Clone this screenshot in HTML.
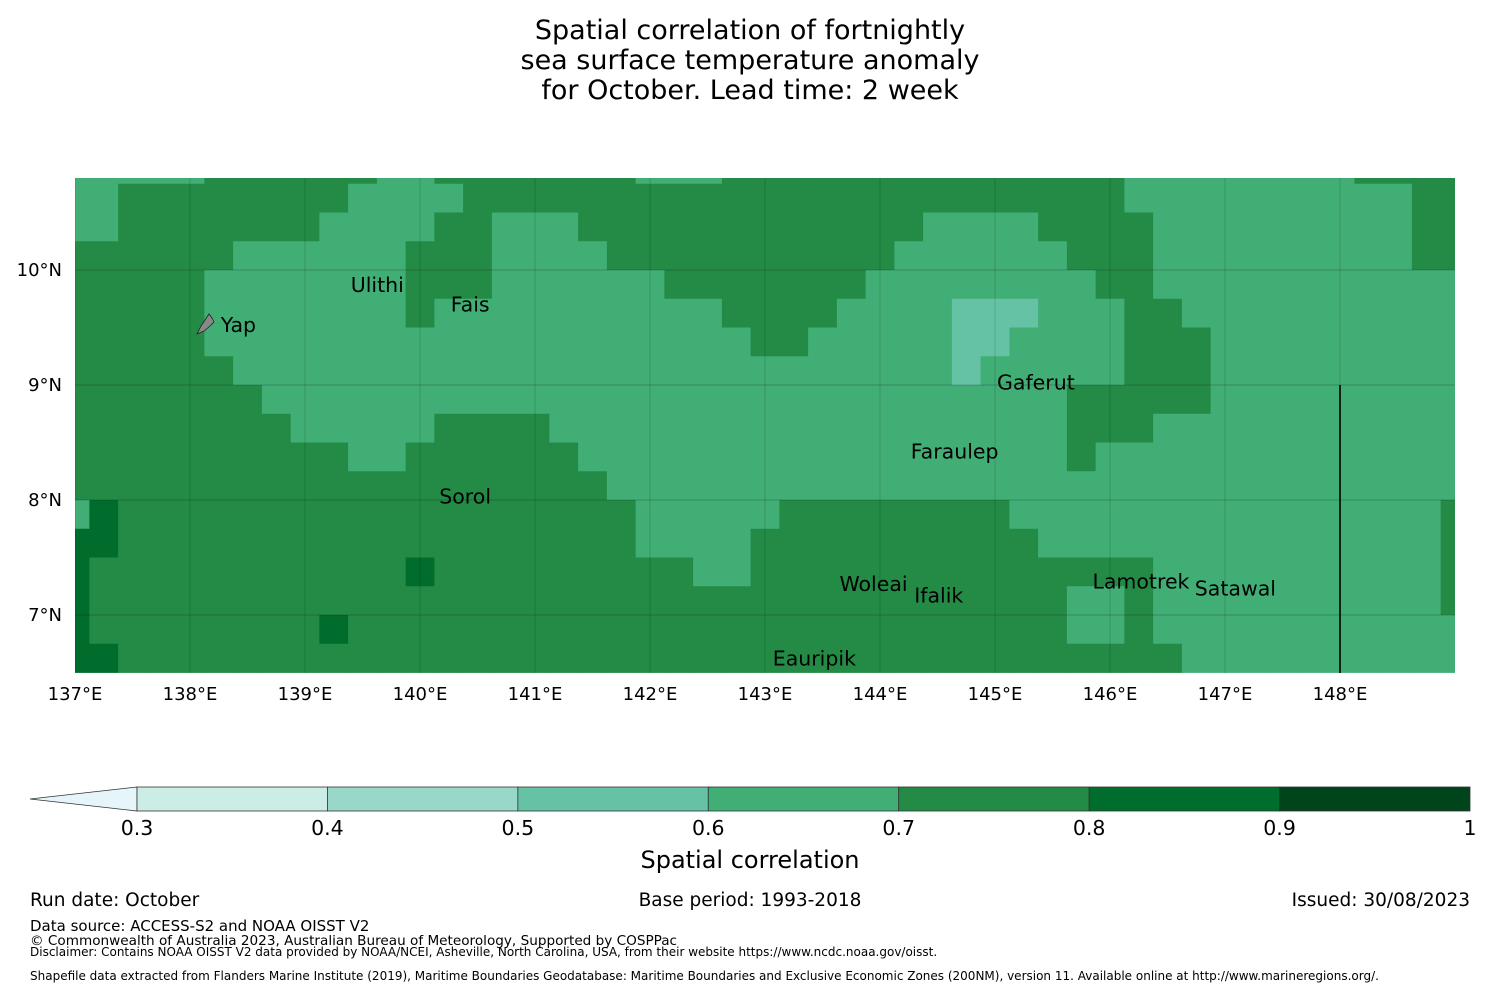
<!DOCTYPE html>
<html><head><meta charset="utf-8">
<style>
html,body{margin:0;padding:0;background:#fff;}
body{width:1500px;height:990px;overflow:hidden;font-family:"Liberation Sans","DejaVu Sans",sans-serif;}
svg text{font-family:"DejaVu Sans","Liberation Sans",sans-serif;}
</style></head>
<body>
<svg id="chart" width="1500" height="990" viewBox="0 0 1500 990" xmlns="http://www.w3.org/2000/svg">
  <g font-size="27" text-anchor="middle" fill="#000">
    <text x="750" y="39">Spatial correlation of fortnightly</text>
    <text x="750" y="69">sea surface temperature anomaly</text>
    <text x="750" y="99">for October. Lead time: 2 week</text>
  </g>
  <defs><clipPath id="mapclip"><rect x="75" y="178" width="1380" height="495"/></clipPath></defs>
  <g id="map" clip-path="url(#mapclip)"></g>
  <g id="axes"></g>
  <g id="labels" font-size="20.5" fill="#000"></g>
  <g id="cbar"></g>
  <text x="750" y="868" font-size="24" text-anchor="middle">Spatial correlation</text>
  <g fill="#000">
    <text x="30" y="906" font-size="18.5">Run date: October</text>
    <text x="750" y="906" font-size="18.5" text-anchor="middle">Base period: 1993-2018</text>
    <text x="1470" y="906" font-size="18.5" text-anchor="end">Issued: 30/08/2023</text>
    <text x="30" y="931" font-size="15">Data source: ACCESS-S2 and NOAA OISST V2</text>
    <text x="30" y="945" font-size="13.6">© Commonwealth of Australia 2023, Australian Bureau of Meteorology, Supported by COSPPac</text>
    <text x="30" y="956" font-size="12">Disclaimer: Contains NOAA OISST V2 data provided by NOAA/NCEI, Asheville, North Carolina, USA, from their website https://www.ncdc.noaa.gov/oisst.</text>
    <text x="30" y="980" font-size="12">Shapefile data extracted from Flanders Marine Institute (2019), Maritime Boundaries Geodatabase: Maritime Boundaries and Exclusive Economic Zones (200NM), version 11. Available online at http://www.marineregions.org/.</text>
  </g>
</svg>
<script>
// ---- data ----
// correlation class per cell (digit d => d/10..(d+1)/10), run-length: "value x count"
const gridRows = [
 "5x5,6x6,5x2,6x7,5x3,6x14,5x8,6x4",
 "5x2,6x8,5x4,6x23,5x10,6x2",
 "5x2,6x7,5x4,6x2,5x3,6x12,5x4,6x4,5x9,6x2",
 "6x6,5x6,6x3,5x4,6x10,5x6,6x3,5x9,6x2",
 "6x5,5x7,6x3,5x6,6x7,5x8,6x2,5x11",
 "6x5,5x7,6x1,5x10,6x4,5x4,4x3,5x3,6x2,5x10",
 "6x5,5x19,6x2,5x5,4x2,5x4,6x3,5x9",
 "6x6,5x25,4x1,5x5,6x3,5x9",
 "6x7,5x28,6x5,5x9",
 "6x8,5x5,6x4,5x18,6x3,5x11",
 "6x10,5x2,6x6,5x17,6x1,5x13",
 "6x19,5x30",
 "5x1,7x1,6x18,5x5,6x8,5x15,6x1",
 "7x2,6x18,5x4,6x10,5x14,6x1",
 "7x1,6x11,7x1,6x9,5x2,6x14,5x10,6x1",
 "7x1,6x34,5x2,6x1,5x10,6x1",
 "7x1,6x8,7x1,6x25,5x2,6x1,5x11",
 "7x2,6x37,5x10"
];
const gridLon0 = 137.0, gridLatTop = 11.0, cellDeg = 0.25;
const lonTicks = [137,138,139,140,141,142,143,144,145,146,147,148];
const latTicks = [7,8,9,10];
const cbarBounds = [0.3,0.4,0.5,0.6,0.7,0.8,0.9,1.0];
const cbarLabels = ["0.3","0.4","0.5","0.6","0.7","0.8","0.9","1"];
const classColors = ["#f7fcfd","#e5f5f9","#ccece6","#99d8c9","#66c2a4","#41ae76","#238b45","#006d2c","#00441b"];
const islandNames = ["Ulithi","Fais","Yap","Gaferut","Faraulep","Sorol","Woleai","Ifalik","Lamotrek","Satawal","Eauripik"];
const islandLon = [139.38,140.25,138.25,145.0,144.25,140.15,143.63,144.28,145.83,146.72,143.05];
const islandLat = [9.87,9.7,9.52,9.02,8.42,8.03,7.27,7.17,7.29,7.23,6.62];
// ---- scales ----
const X0=75, Y0=178, PX=115, LAT_TOP=10.8;
const xs = lon => X0 + (lon-137)*PX;
const ys = lat => Y0 + (LAT_TOP-lat)*PX;
const NS="http://www.w3.org/2000/svg";
function mk(tag, attrs, parent){const e=document.createElementNS(NS,tag);for(const k in attrs)e.setAttribute(k,attrs[k]);parent.appendChild(e);return e;}
const map=document.getElementById('map');
gridRows.forEach((row,i)=>{
  const latT = gridLatTop - i*cellDeg, latB = latT - cellDeg;
  let j=0;
  row.split(',').forEach(run=>{
    const [v,n]=run.split('x').map(Number);
    for(let k=0;k<n;k++,j++){
      const lonC=gridLon0+j*cellDeg;
      const x1=xs(lonC-cellDeg/2), x2=xs(lonC+cellDeg/2);
      const r=mk('rect',{x:x1.toFixed(2),y:ys(latT).toFixed(2),width:(x2-x1+0.4).toFixed(2),height:(ys(latB)-ys(latT)+0.4).toFixed(2),fill:classColors[v]},map);
      
      
    }
  });
});
// gridlines
lonTicks.forEach(l=>{const g=mk('line',{x1:xs(l),x2:xs(l),y1:178,y2:673,stroke:'rgba(0,0,0,0.15)','stroke-width':1},map);
  
  });
latTicks.forEach(l=>{const g=mk('line',{x1:75,x2:1455,y1:ys(l),y2:ys(l),stroke:'rgba(0,0,0,0.2)','stroke-width':1},map);
  
  });
// EEZ boundary line
const eez=mk('line',{x1:xs(148),x2:xs(148),y1:ys(9),y2:673,stroke:'#000','stroke-width':1.6},map);


// Yap island shape
const yap=mk('path',{d:'M197,334 L201,326 L205,320 L209,314 L212,318 L214,322 L210,326 L204,331 Z',fill:'#888',stroke:'#222','stroke-width':0.8},map);


// axes labels
const axes=document.getElementById('axes');
lonTicks.forEach((l,i)=>{const t=mk('text',{x:xs(l),y:700,'font-size':18,'text-anchor':'middle'},axes);t.textContent=l+'°E';
  
  });
latTicks.forEach(l=>{const t=mk('text',{x:62,y:ys(l)+6,'font-size':18,'text-anchor':'end'},axes);t.textContent=l+'°N';
  
  });
// island labels
const lab=document.getElementById('labels');
islandNames.forEach((n,i)=>{const t=mk('text',{x:xs(islandLon[i])+2,y:ys(islandLat[i])+7},lab);t.textContent=n;
  
  });
// colorbar
const cb=document.getElementById('cbar');
const CB0=137, CB1=1470, CBY=787, CBH=24;
const cx = v => CB0 + (v-cbarBounds[0])/(cbarBounds[cbarBounds.length-1]-cbarBounds[0])*(CB1-CB0);
const ext=mk('path',{d:`M${CB0},${CBY} L30,${CBY+CBH/2} L${CB0},${CBY+CBH} Z`,fill:classColors[1],stroke:'#333','stroke-width':0.8},cb);


for(let k=0;k<cbarBounds.length-1;k++){
  const r=mk('rect',{x:cx(cbarBounds[k]),y:CBY,width:cx(cbarBounds[k+1])-cx(cbarBounds[k]),height:CBH,fill:classColors[k+2],stroke:'#333','stroke-width':0.8},cb);
  
  
}
cbarBounds.forEach((b,k)=>{const t=mk('text',{x:cx(b),y:835,'font-size':20.5,'text-anchor':'middle'},cb);t.textContent=cbarLabels[k];
  
  });
</script>
</body></html>
